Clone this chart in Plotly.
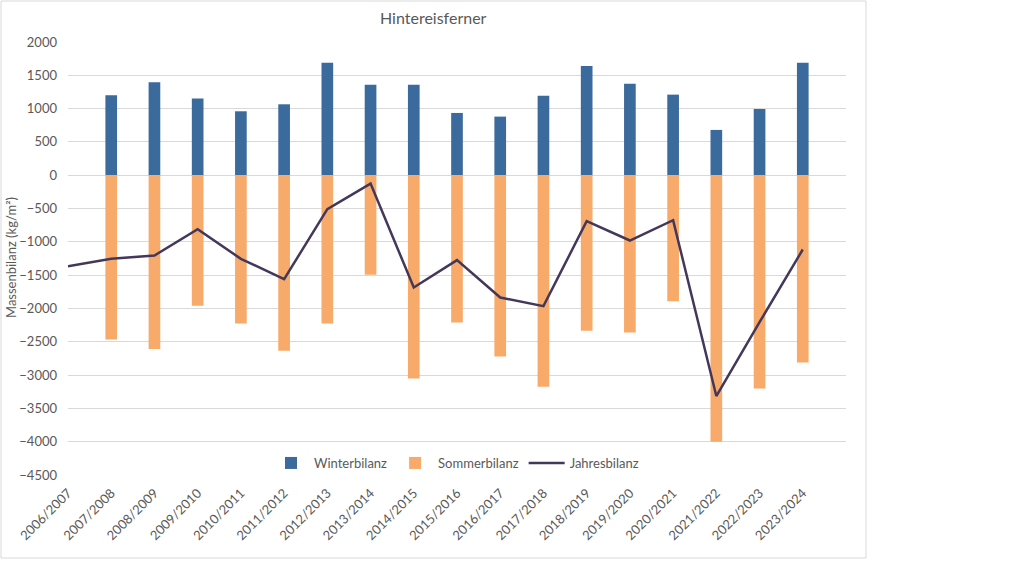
import plotly.graph_objects as go

seasons = ["2006/2007", "2007/2008", "2008/2009", "2009/2010", "2010/2011", "2011/2012",
           "2012/2013", "2013/2014", "2014/2015", "2015/2016", "2016/2017", "2017/2018",
           "2018/2019", "2019/2020", "2020/2021", "2021/2022", "2022/2023", "2023/2024"]
winter = [None, 1200, 1395, 1150, 960, 1065, 1690, 1360, 1360, 935, 880, 1195, 1640,
          1375, 1210, 680, 995, 1690]
summer = [None, -2465, -2610, -1960, -2225, -2635, -2225, -1495, -3050, -2210, -2720,
          -3175, -2335, -2360, -1890, -4000, -3200, -2810]
annual = [-1365, -1255, -1205, -810, -1255, -1560, -510, -125, -1685, -1275, -1835,
          -1965, -690, -980, -675, -3315, -2205, -1115]
y_ticks = list(range(-4500, 2001, 500))

x = list(range(len(seasons)))
font = "Lato, 'Open Sans', sans-serif"
grey = "#595959"

fig = go.Figure()
fig.add_trace(go.Bar(x=x, y=winter, name="Winterbilanz", marker_color="#3B6A9C",
                     marker_line_width=0, width=0.27))
fig.add_trace(go.Bar(x=x, y=summer, name="Sommerbilanz", marker_color="#F8AA6A",
                     marker_line_width=0, width=0.27))
fig.add_trace(go.Scatter(x=x, y=annual, name="Jahresbilanz", mode="lines",
                         line=dict(color="#44385A", width=2.5)))

L, R, T, B = 68, 178, 42, 101
pw, ph = 1024 - L - R, 576 - T - B

def px(v):
    return (v - L) / pw

def py(v):
    return (576 - B - v) / ph

fig.update_layout(
    width=1024, height=576,
    margin=dict(l=L, r=R, t=T, b=B, autoexpand=False),
    paper_bgcolor="white", plot_bgcolor="white",
    barmode="relative",
    font=dict(family=font, size=12, color=grey),
    showlegend=True,
    legend=dict(orientation="h", x=px(456), xanchor="center", y=py(463), yanchor="middle",
                font=dict(size=13, color=grey), bgcolor="rgba(0,0,0,0)",
                itemwidth=36, tracegroupgap=0),
    xaxis=dict(range=[0, 18], tickvals=x, ticktext=seasons, tickangle=-45,
               showgrid=False, zeroline=False, showline=False, ticks="",
               ticklabelstandoff=7, tickfont=dict(size=13, color=grey)),
    yaxis=dict(range=[-4500, 2000], tickvals=y_ticks, showgrid=True, gridcolor="#D9D9D9",
               gridwidth=1, zeroline=True, zerolinecolor="#D9D9D9", zerolinewidth=1,
               showline=False, ticks="", ticklabelstandoff=10,
               tickfont=dict(size=13, color=grey)),
    annotations=[
        dict(text="Hintereisferner", x=px(433), y=py(18), xref="paper", yref="paper",
             showarrow=False, font=dict(size=16, color=grey), xanchor="center", yanchor="middle"),
        dict(text="Massenbilanz (kg/m²)", x=px(11), y=py(258), xref="paper", yref="paper",
             showarrow=False, textangle=-90, font=dict(size=13, color=grey),
             xanchor="center", yanchor="middle"),
    ],
    shapes=[
        dict(type="rect", xref="paper", yref="paper", x0=px(1), x1=px(866), y0=py(558), y1=py(1),
             line=dict(color="#D9D9D9", width=1), fillcolor="rgba(0,0,0,0)", layer="below"),
    ],
)

fig.write_html("out.html", config={"displayModeBar": False},
               post_script="document.body.style.margin='0';")
